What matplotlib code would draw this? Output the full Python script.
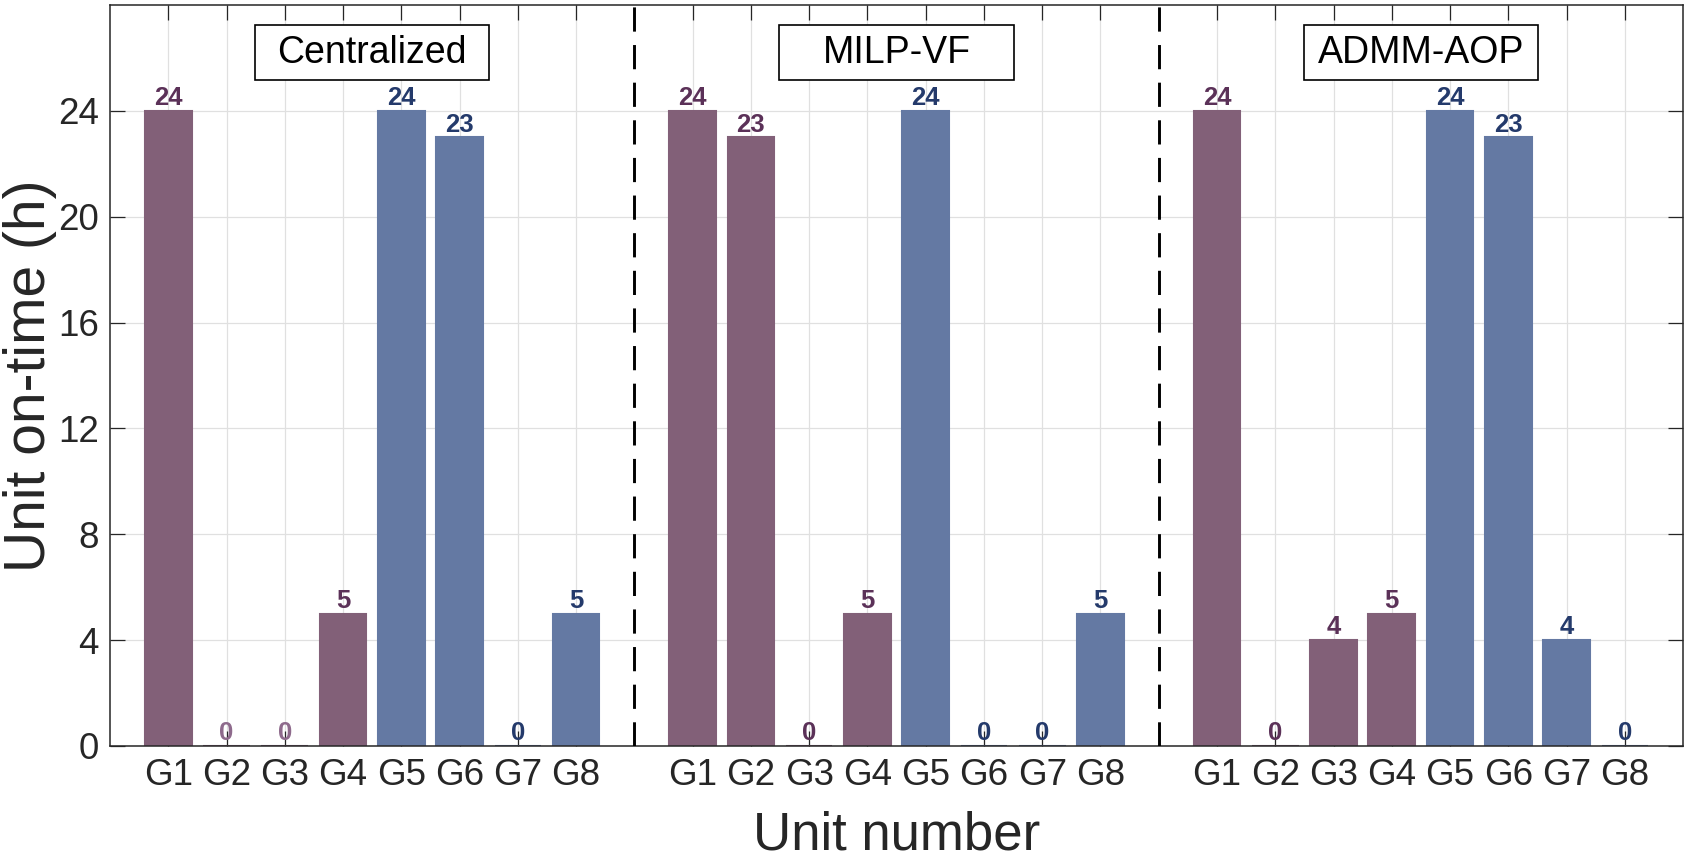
import numpy as np
import matplotlib
matplotlib.use("Agg")
import matplotlib.pyplot as plt
from matplotlib.patches import Rectangle

plt.rcParams['font.family'] = ['Liberation Sans', 'DejaVu Sans']

# data
methods = ["Centralized", "MILP-VF", "ADMM-AOP"]
units = ["G1", "G2", "G3", "G4", "G5", "G6", "G7", "G8"]
centralized = [24, 0, 0, 5, 24, 23, 0, 5]
milp_vf = [24, 23, 0, 5, 24, 0, 0, 5]
admm_aop = [24, 0, 4, 5, 24, 23, 4, 0]
on_time = [centralized, milp_vf, admm_aop]

purple = "#826078"
blue = "#6479A3"
purple_txt = "#5B3158"
blue_txt = "#243A6B"
light_txt = "#8E6A8C"   # the two pale zeros in the first panel
pale = {(0, 1), (0, 2)}

fig = plt.figure(figsize=(16.9, 8.66), dpi=100)
ax = fig.add_axes([0.0651, 0.1386, 0.9308, 0.8556])

step = len(units) + 1
xticks, xlabels = [], []
for g, vals in enumerate(on_time):
    x0 = 1 + g * step
    xs = np.arange(x0, x0 + len(units))
    cols = [purple if i < 4 else blue for i in range(len(units))]
    ax.bar(xs, vals, width=0.8, color=cols, edgecolor=cols, linewidth=1.5, zorder=2)
    for i, (x, v) in enumerate(zip(xs, vals)):
        tc = purple_txt if i < 4 else blue_txt
        if (g, i) in pale:
            tc = light_txt
        ax.annotate(str(v), (x, v), xytext=(0, 0.5), textcoords="offset points",
                    ha="center", va="bottom", fontsize=18.5, fontweight="bold",
                    color=tc, zorder=3)
    xticks += list(xs)
    xlabels += units

    # method name box
    xc = x0 + (len(units) - 1) / 2
    ax.add_patch(Rectangle((xc - 2.01, 25.17), 4.02, 2.08, facecolor="white",
                           edgecolor="black", linewidth=1.2, zorder=4))
    ax.text(xc, 26.2, methods[g], ha="center", va="center", fontsize=27,
            color="black", zorder=5)

    if g > 0:
        ax.axvline(x0 - 1, color="black", lw=2.1, dashes=(8.3, 4.6), zorder=3)

ax.set_xlim(0, len(on_time) * step)
ax.set_ylim(0, 28)
ax.set_xticks(xticks)
ax.set_xticklabels(xlabels)
ax.set_yticks(np.arange(0, 25, 4))

ax.grid(True, color="#E0E0E0", lw=0.9, zorder=0)
ax.set_axisbelow(True)
ax.tick_params(direction="in", length=11, width=0.9, colors="#262626",
               labelsize=26.5, top=True, right=True)
ax.tick_params(axis="x", pad=9)
ax.tick_params(axis="y", pad=8)
for s in ax.spines.values():
    s.set_color("#262626")
    s.set_linewidth(1.1)

ax.set_xlabel("Unit number", fontsize=38, color="#262626", labelpad=12)
ax.set_ylabel("Unit on-time (h)", fontsize=41, color="#262626")
ax.yaxis.set_label_coords(-0.0335, 0.5)

fig.savefig("out.png", dpi=100)
